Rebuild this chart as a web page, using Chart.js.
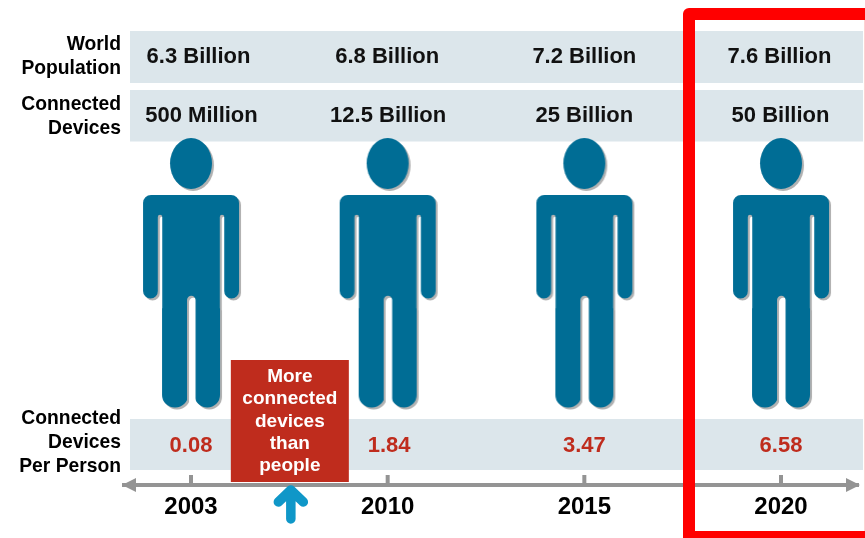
<!DOCTYPE html>
<html>
<head>
<meta charset="utf-8">
<title>Connected devices per person</title>
<script src="https://cdn.jsdelivr.net/npm/chart.js@4"></script>
<style>
    html, body { margin: 0; padding: 0; background: #fff; }
    canvas { display: block; }
</style>
</head>
<body>
<canvas id="myChart" width="865" height="538"></canvas>
<script>
/** 数据 */
var years = ['2003', '2010', '2015', '2020']
var population = ['6.3 Billion', '6.8 Billion', '7.2 Billion', '7.6 Billion']
var devices = ['500 Million', '12.5 Billion', '25 Billion', '50 Billion']
var devicesPerPerson = [0.08, 1.84, 3.47, 6.58]
var rowTitles = [['World', 'Population'], ['Connected', 'Devices'], ['Connected', 'Devices', 'Per Person']]
var calloutLines = ['More', 'connected', 'devices', 'than', 'people']
var calloutYear = 0.5

var FONT = '"Liberation Sans", Arial, sans-serif'
var BAND = '#dce6eb'
var GREY = '#949494'
var RED = '#bf2c1d'

/** 第一列的文字不在刻度正上方，这里单独调 */
var populationShift = [7, -1, -0.5, -2]
var devicesShift = [10, 0, -0.5, -1]
var ratioShift = [0, 1.5, 0, 0]

/** 人形图标，作为散点的 pointStyle */
function makePerson() {
    var shape = document.createElement('canvas')
    shape.width = 104
    shape.height = 278
    var c = shape.getContext('2d')
    c.translate(52, 2)
    c.fillStyle = '#006d95'
    // 头
    c.beginPath()
    c.ellipse(0, 25.5, 21, 25.5, 0, 0, Math.PI * 2)
    c.fill()
    // 肩 + 手臂 + 躯干 + 腿
    c.beginPath()
    c.roundRect(-48, 57, 96, 60, [8, 8, 0, 0])
    c.roundRect(-48, 100, 15, 60.5, [0, 0, 7.5, 7.5])
    c.roundRect(33, 100, 15, 60.5, [0, 0, 7.5, 7.5])
    c.rect(-29, 100, 58, 80)
    c.roundRect(-29, 170, 26, 99.5, [0, 0, 12.5, 12.5])
    c.roundRect(3.5, 170, 25.5, 99.5, [0, 0, 12.5, 12.5])
    c.fill()
    // 手臂和躯干之间、两腿之间的缝
    c.globalCompositeOperation = 'destination-out'
    c.lineCap = 'round'
    c.lineWidth = 4.4
    c.beginPath()
    c.moveTo(-31, 79)
    c.lineTo(-31, 170)
    c.moveTo(31, 79)
    c.lineTo(31, 170)
    c.stroke()
    c.lineWidth = 8.5
    c.beginPath()
    c.moveTo(0.25, 162)
    c.lineTo(0.25, 280)
    c.stroke()

    var out = document.createElement('canvas')
    out.width = shape.width
    out.height = shape.height
    var o = out.getContext('2d')
    o.shadowColor = 'rgba(0,0,0,0.3)'
    o.shadowOffsetX = 2
    o.shadowOffsetY = 2
    o.shadowBlur = 1
    o.drawImage(shape, 0, 0)
    return out
}

function text(ctx, str, x, y, font, color, align) {
    ctx.font = font
    ctx.fillStyle = color
    ctx.textAlign = align || 'center'
    ctx.textBaseline = 'middle'
    ctx.fillText(str, x, y)
}

/** 底色条：放在图形下面 */
var bandPlugin = {
    id: 'bands',
    beforeDatasetsDraw: function (chart) {
        var ctx = chart.ctx
        var yS = chart.scales.y
        ctx.save()
        ctx.fillStyle = BAND;
        [[31, 83], [90, 141.5], [419, 470]].forEach(function (b) {
            ctx.fillRect(130, yS.getPixelForValue(b[0]), 733, b[1] - b[0])
        })
        ctx.restore()
    }
}

/** 文字、时间轴箭头、标注框 */
var overlayPlugin = {
    id: 'overlay',
    afterDraw: function (chart) {
        var ctx = chart.ctx
        var xS = chart.scales.x
        var yS = chart.scales.y
        var axisY = yS.getPixelForValue(485)
        ctx.save()

        // 行标题
        var titleFont = 'bold 19.3px ' + FONT
        var titleTops = [45, 105, 418.5]
        rowTitles.forEach(function (lines, r) {
            lines.forEach(function (line, i) {
                text(ctx, line, 121, titleTops[r] + i * 24, titleFont, '#000', 'right')
            })
        })

        // 每列数值
        years.forEach(function (year, i) {
            var x = xS.getPixelForValue(i)
            text(ctx, population[i], x + 0.5 + populationShift[i], yS.getPixelForValue(57), 'bold 22px ' + FONT, '#111')
            text(ctx, devices[i], x + 0.5 + devicesShift[i], yS.getPixelForValue(116), 'bold 22px ' + FONT, '#111')
            text(ctx, devicesPerPerson[i].toFixed(2), x + ratioShift[i], yS.getPixelForValue(446), 'bold 22px ' + FONT, RED)
            // 刻度
            ctx.fillStyle = GREY
            ctx.fillRect(x - 2, axisY - 10, 4, 10)
        })

        // 箭头
        ctx.fillStyle = GREY
        ctx.beginPath()
        ctx.moveTo(122, axisY)
        ctx.lineTo(136, axisY - 7)
        ctx.lineTo(136, axisY + 7)
        ctx.closePath()
        ctx.moveTo(860, axisY)
        ctx.lineTo(846, axisY - 7)
        ctx.lineTo(846, axisY + 7)
        ctx.closePath()
        ctx.fill()

        // 标注框
        var cx = xS.getPixelForValue(calloutYear) + 0.5
        ctx.fillStyle = RED
        ctx.fillRect(cx - 59, 360, 118, 122)
        calloutLines.forEach(function (line, i) {
            text(ctx, line, cx, 376.5 + i * 22.4, 'bold 19px ' + FONT, '#fff')
        })

        // 蓝色箭头
        ctx.strokeStyle = '#0f97c8'
        ctx.lineWidth = 9.5
        ctx.lineCap = 'round'
        ctx.lineJoin = 'round'
        ctx.beginPath()
        ctx.moveTo(cx + 1, 519)
        ctx.lineTo(cx + 1, 491)
        ctx.moveTo(cx - 11.5, 502)
        ctx.lineTo(cx + 1, 490)
        ctx.lineTo(cx + 13.5, 502)
        ctx.stroke()

        // 2020 红框
        ctx.strokeStyle = '#ff0000'
        ctx.lineWidth = 12
        ctx.lineJoin = 'round'
        ctx.beginPath()
        ctx.moveTo(880, 14)
        ctx.lineTo(689, 14)
        ctx.lineTo(689, 537)
        ctx.lineTo(880, 537)
        ctx.stroke()
        ctx.fillStyle = 'rgba(255,0,0,0.18)'
        ctx.fillRect(864, 20, 1, 511)

        ctx.restore()
    }
}

var person = makePerson()
var ctx = document.getElementById('myChart').getContext('2d')
var myChart = new Chart(ctx, {
    type: 'scatter',
    data: {
        datasets: [{
            label: 'people',
            data: years.map(function (year, i) {
                return { x: i, y: 275 }
            }),
            pointStyle: person,
            pointRadius: 1
        }]
    },
    options: {
        responsive: false,
        animation: false,
        layout: { autoPadding: false, padding: { left: 124, right: 7, top: 0, bottom: 0 } },
        plugins: { legend: { display: false }, tooltip: { enabled: false } },
        scales: {
            x: {
                type: 'linear',
                min: -0.3407,
                max: 3.3915,
                afterBuildTicks: function (axis) {
                    axis.ticks = years.map(function (year, i) { return { value: i } })
                },
                afterFit: function (axis) { axis.height = 53 },
                grid: { display: false, drawTicks: false },
                border: { display: true, color: GREY, width: 4 },
                ticks: {
                    autoSkip: false,
                    maxRotation: 0,
                    padding: 8,
                    color: '#000',
                    font: { family: '"Liberation Sans"', size: 24, weight: 'bold' },
                    callback: function (value) { return years[value] }
                }
            },
            y: {
                display: false,
                min: 0,
                max: 485,
                reverse: true
            }
        }
    },
    plugins: [bandPlugin, overlayPlugin]
})
</script>
</body>
</html>
